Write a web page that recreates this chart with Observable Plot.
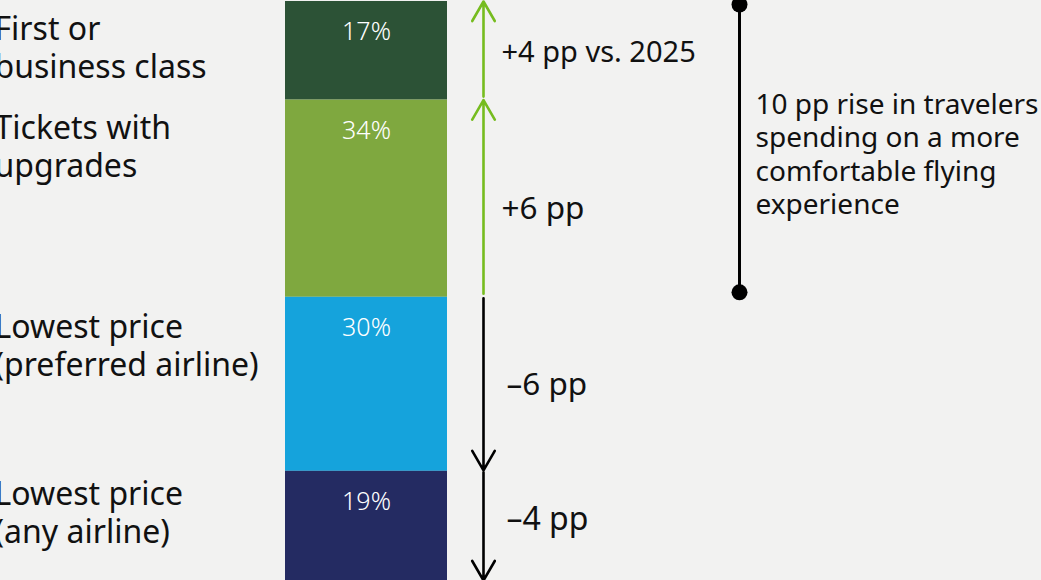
<!DOCTYPE html>
<html>
<head>
<meta charset="utf-8">
<script src="https://cdn.jsdelivr.net/npm/d3@7"></script>
<script src="https://cdn.jsdelivr.net/npm/@observablehq/plot@0.6"></script>
<style>
  html, body { margin: 0; padding: 0; background: #f2f2f1; }
  #chart { width: 1041px; height: 580px; overflow: hidden; }
</style>
</head>
<body>
<div id="chart"></div>
<script>
// ---- Data ----
const categories = [
  "First or business class",
  "Tickets with upgrades",
  "Lowest price (preferred airline)",
  "Lowest price (any airline)"
];
const labelLines = [
  "First or\nbusiness class",
  "Tickets with\nupgrades",
  "Lowest price\n(preferred airline)",
  "Lowest price\n(any airline)"
];
const shares = [17, 34, 30, 19];          // % of travelers
const changes = [4, 6, -6, -4];           // pp change vs. 2025
const changeLabels = ["+4 pp vs. 2025", "+6 pp", "\u20136 pp", "\u20134 pp"];
const noteText = "10 pp rise in travelers\nspending on a more\ncomfortable flying\nexperience";

// ---- Styles / layout ----
const colors = ["#2c5236", "#7fa83f", "#15a3dc", "#242b62"];
const GREEN = "#76bc1f";
const BG = "#f2f2f1";
const INK = "#111111";
const W = 1041, H = 580;
const BAR_X1 = 285, BAR_X2 = 447;
const LABEL_X = -6;
const ARROW_X = 483;
const CHANGE_X = 501;
const NOTE_LINE_X = 739;
const NOTE_X = 755;
const LABEL_FS = 32, LABEL_LH = 1.19;
const labelBaseline = [38.3, 38.4, 40.2, 33.2];   // px from segment top to first baseline
const changeNudge = [2, 10, 1, -7];               // px from segment middle
const changeSize = [29, 31.5, 31.5, 32];
const changeDx = [0, 0, 5, 5];

// ---- Derived rows ----
let acc = 0;
const rows = categories.map((c, i) => {
  const r = {
    category: c,
    label: labelLines[i],
    share: shares[i],
    pct: shares[i] + "%",
    y1: acc,
    y2: acc + shares[i],
    change: changes[i],
    changeLabel: changeLabels[i],
    color: colors[i]
  };
  acc += shares[i];
  return r;
});
const up = rows.filter(d => d.change > 0);
const down = rows.filter(d => d.change < 0);
const comfortEnd = d3.max(up, d => d.y2);
const comfortStart = d3.min(up, d => d.y1);

const font = "'Noto Sans', 'Open Sans', sans-serif";

const chart = Plot.plot({
  width: W,
  height: H,
  margin: 0,
  style: { background: BG, fontFamily: font, overflow: "hidden" },
  x: { type: "linear", domain: [0, W], range: [0, W], axis: null },
  y: { domain: [0, 100], range: [1, 581], axis: null },
  color: { type: "identity" },
  marks: [
    // stacked bar
    Plot.rect(rows, { x1: BAR_X1, x2: BAR_X2, y1: "y1", y2: "y2", fill: "color" }),
    // percent labels
    Plot.text(rows, {
      x: (BAR_X1 + BAR_X2) / 2, y: "y1", text: "pct",
      lineAnchor: "top", dy: 21, fill: "#ffffff", fontSize: 25, fontWeight: 300
    }),
    // category labels (left)
    ...rows.map((d, i) => Plot.text([d], {
      x: LABEL_X, y: "y1", text: "label", textAnchor: "start",
      lineAnchor: "top", dy: labelBaseline[i] - 0.71 * LABEL_LH * LABEL_FS,
      fontSize: LABEL_FS, lineHeight: LABEL_LH, fill: INK
    })),
    // change arrows
    Plot.arrow(up, {
      x1: ARROW_X, x2: ARROW_X, y1: "y2", y2: "y1",
      stroke: GREEN, strokeWidth: 2.6, headLength: 13, headAngle: 60,
      insetStart: 3.5, insetEnd: 0
    }),
    Plot.arrow(down, {
      x1: ARROW_X, x2: ARROW_X, y1: "y1", y2: "y2",
      stroke: "#000", strokeWidth: 2.6, headLength: 13, headAngle: 60,
      insetStart: 1, insetEnd: 1
    }),
    // change labels
    ...rows.map((d, i) => Plot.text([d], {
      x: CHANGE_X, y: r => (r.y1 + r.y2) / 2, text: "changeLabel", textAnchor: "start",
      lineAnchor: "middle", dy: changeNudge[i], dx: changeDx[i], fontSize: changeSize[i], fill: INK
    })),
    // note bracket
    Plot.ruleX([{ y1: comfortStart, y2: comfortEnd }], {
      x: NOTE_LINE_X, y1: "y1", y2: "y2", stroke: "#000", strokeWidth: 3,
      insetTop: 3, insetBottom: 5
    }),
    Plot.dot([comfortStart], { x: NOTE_LINE_X, y: d => d, r: 8, fill: "#000", dy: 3 }),
    Plot.dot([comfortEnd], { x: NOTE_LINE_X, y: d => d, r: 8, fill: "#000", dy: -5 }),
    Plot.text([noteText], {
      x: NOTE_X, y: (comfortStart + comfortEnd) / 2, text: d => d,
      textAnchor: "start", lineAnchor: "middle", dy: 4,
      fontSize: 28, lineHeight: 1.19, fill: INK
    })
  ]
});
document.getElementById("chart").append(chart);
</script>
</body>
</html>
